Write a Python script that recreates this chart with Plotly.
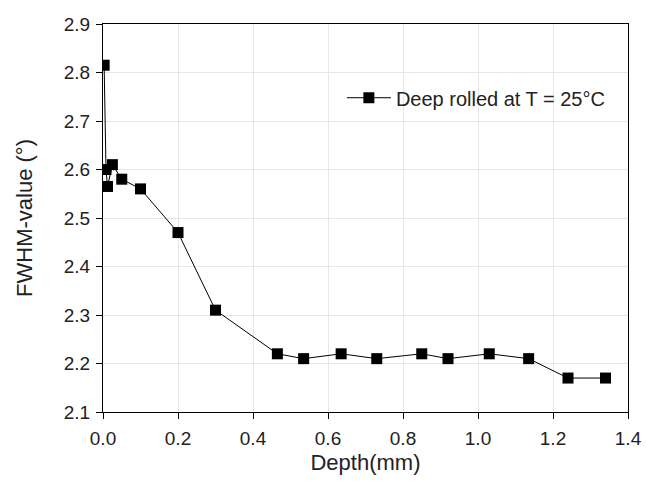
import plotly.graph_objects as go

depth = [0.003, 0.008, 0.012, 0.025, 0.05, 0.1, 0.2, 0.3, 0.465, 0.535, 0.635, 0.73, 0.85, 0.92, 1.03, 1.135, 1.24, 1.34]
fwhm = [2.815, 2.60, 2.565, 2.61, 2.58, 2.56, 2.47, 2.31, 2.22, 2.21, 2.22, 2.21, 2.22, 2.21, 2.22, 2.21, 2.17, 2.17]
x_ticks = [0.0, 0.2, 0.4, 0.6, 0.8, 1.0, 1.2, 1.4]
y_ticks = [2.1, 2.2, 2.3, 2.4, 2.5, 2.6, 2.7, 2.8, 2.9]

fig = go.Figure()
fig.add_trace(go.Scatter(
    x=depth, y=fwhm, mode="lines+markers",
    name="Deep rolled at T = 25°C",
    line=dict(color="black", width=1),
    marker=dict(symbol="square", size=11, color="black"),
))

axis_common = dict(
    showline=True, linecolor="black", linewidth=1.2, mirror=True,
    ticks="outside", ticklen=6, tickcolor="black", tickwidth=1,
    showgrid=True, gridcolor="#e6e6e6", gridwidth=1, zeroline=False,
    automargin=False,
    tickfont=dict(family="Liberation Sans, Arial", size=19, color="#222"),
)

fig.update_layout(
    width=646, height=484,
    paper_bgcolor="white", plot_bgcolor="white",
    margin=dict(l=103, r=18, t=24, b=72),
    font=dict(family="Liberation Sans, Arial", color="#222"),
    xaxis=dict(range=[0, 1.4], tickvals=x_ticks, ticktext=[f"{v:.1f}" for v in x_ticks],
               ticklabelstandoff=3,
               title=dict(text="Depth(mm)", font=dict(size=22), standoff=6), **axis_common),
    yaxis=dict(range=[2.1, 2.9], tickvals=y_ticks, ticktext=[f"{v:.1f}" for v in y_ticks],
               ticklabelstandoff=2,
               title=dict(text="FWHM-value (°)", font=dict(size=22), standoff=24), **axis_common),
    showlegend=True,
    legend=dict(x=0.455, y=0.81, xanchor="left", yanchor="middle", itemwidth=44,
                font=dict(size=20, color="#222"), bgcolor="rgba(0,0,0,0)"),
)

fig.write_html("out.html", config={"displayModeBar": False},
               post_script="document.body.style.margin='0';document.body.style.overflow='hidden';")
